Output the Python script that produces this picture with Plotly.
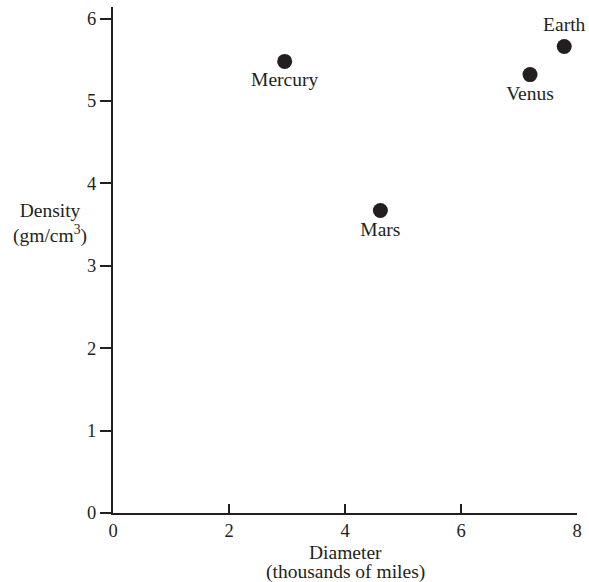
import plotly.graph_objects as go

planets = ["Mercury", "Venus", "Earth", "Mars"]
diameter = [2.96, 7.19, 7.78, 4.61]
density = [5.48, 5.32, 5.66, 3.67]
label_pos = ["bottom center", "bottom center", "top center", "bottom center"]

x_ticks = [0, 2, 4, 6, 8]
y_ticks = [0, 1, 2, 3, 4, 5, 6]

FONT = "Liberation Serif, Times New Roman, serif"
INK = "#231f20"
LABEL_SIZE = 19.5
TICK_SIZE = 18.5

fig = go.Figure()
fig.add_trace(go.Scatter(
    x=diameter, y=density, mode="markers+text",
    text=planets, textposition=label_pos,
    textfont=dict(family=FONT, size=LABEL_SIZE, color=INK),
    marker=dict(size=15, color=INK),
    cliponaxis=False, hoverinfo="skip",
))

fig.update_layout(
    width=589, height=582,
    margin=dict(l=113, r=9, t=7, b=69),
    plot_bgcolor="white", paper_bgcolor="white",
    showlegend=False,
    font=dict(family=FONT, size=LABEL_SIZE, color=INK),
)
fig.update_xaxes(
    range=[0, 8], tickvals=x_ticks, ticks="inside", ticklen=9, tickwidth=2,
    tickcolor=INK, showline=True, linecolor=INK, linewidth=2,
    showgrid=False, zeroline=False, tickfont=dict(family=FONT, size=TICK_SIZE, color=INK),
)
fig.update_yaxes(
    range=[0, 6.14], tickvals=y_ticks, ticks="outside", ticklen=11, tickwidth=2,
    tickcolor=INK, showline=True, linecolor=INK, linewidth=2,
    showgrid=False, zeroline=False, tickfont=dict(family=FONT, size=TICK_SIZE, color=INK),
)

fig.add_annotation(
    text="Diameter", xref="paper", yref="paper",
    x=0.5, y=-0.079, yanchor="middle", showarrow=False,
    font=dict(family=FONT, size=LABEL_SIZE, color=INK),
)
fig.add_annotation(
    text="(thousands of miles)", xref="paper", yref="paper",
    x=0.5, y=-0.117, yanchor="middle", showarrow=False,
    font=dict(family=FONT, size=LABEL_SIZE, color=INK),
)
fig.add_annotation(
    text="Density<br>(gm/cm<sup>3</sup>)", xref="paper", yref="y",
    x=-0.135, y=3.51, xanchor="center", showarrow=False,
    font=dict(family=FONT, size=LABEL_SIZE, color=INK),
)

fig.write_html(
    "out.html",
    config={"displayModeBar": False},
    post_script="document.body.style.margin='0';document.body.style.padding='0';document.body.style.overflow='hidden';",
)
